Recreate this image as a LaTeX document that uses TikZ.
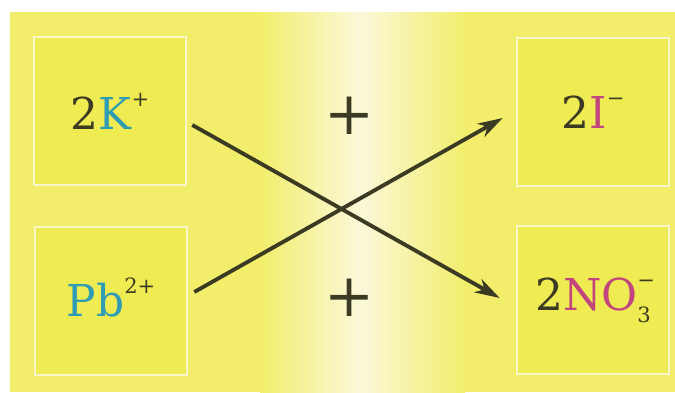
\documentclass[tikz,border=0pt]{standalone}
\usepackage{fontspec}
\setmainfont{DejaVu Serif}
\usetikzlibrary{arrows.meta,positioning}
\definecolor{bgyellow}{HTML}{F2EE6C}
\definecolor{boxyellow}{HTML}{EFEB52}
\definecolor{paleband}{HTML}{FBF8DA}
\definecolor{boxline}{HTML}{F9F7C8}
\definecolor{inkdark}{HTML}{3B3A22}
\definecolor{cationblue}{HTML}{2E9DB4}
\definecolor{anionpink}{HTML}{C2457E}
\newcommand{\ionsup}[1]{\raisebox{0.52em}{\fontsize{12}{12}\selectfont #1}}
\newcommand{\ionsub}[1]{\raisebox{-0.28em}{\fontsize{12}{12}\selectfont #1}}

\begin{document}
\begin{tikzpicture}[
    x=0.02cm, y=-0.02cm,
    ionbox/.style={draw=boxline, line width=1.2pt, fill=boxyellow, minimum width=3.05cm, minimum height=2.95cm, text=inkdark, font=\fontsize{25}{30}\selectfont},
    plus/.style={text=inkdark, font=\fontsize{34}{40}\selectfont},
    arrow/.style={-{Stealth[length=5mm, width=3mm, inset=1.5mm]}, line width=2.2pt, draw=inkdark}
  ]
    \useasboundingbox (0,0) rectangle (675,392);
    \fill[bgyellow] (10,12) rectangle (675,392);
    \shade[left color=bgyellow, right color=paleband] (260,12) rectangle (360,392);
    \shade[left color=paleband, right color=bgyellow] (360,12) rectangle (465,392);

    \node[ionbox] (kbox) at (110,111) {2\textcolor{cationblue}{K}\ionsup{+}};
    \node[ionbox] (pbbox) at (111,301) {\raisebox{4pt}{\textcolor{cationblue}{Pb}\ionsup{2+}}};
    \node[ionbox] (ibox) at (593,112) {2\textcolor{anionpink}{I}\ionsup{−}};
    \node[ionbox] (nobox) at (593,300) {\raisebox{4pt}{2\textcolor{anionpink}{NO}\rlap{\ionsup{−}}\ionsub{3}}};

    \node[plus] (plustop) at (350,116) {+};
    \node[plus] (plusbot) at (350,298) {+};

    \draw[arrow] ([shift={(5,14)}]kbox.east) -- ([shift={(-16,-2)}]nobox.west);
    \draw[arrow] ([shift={(6,-9)}]pbbox.east) -- ([shift={(-13,6)}]ibox.west);
  \end{tikzpicture}
\end{document}
